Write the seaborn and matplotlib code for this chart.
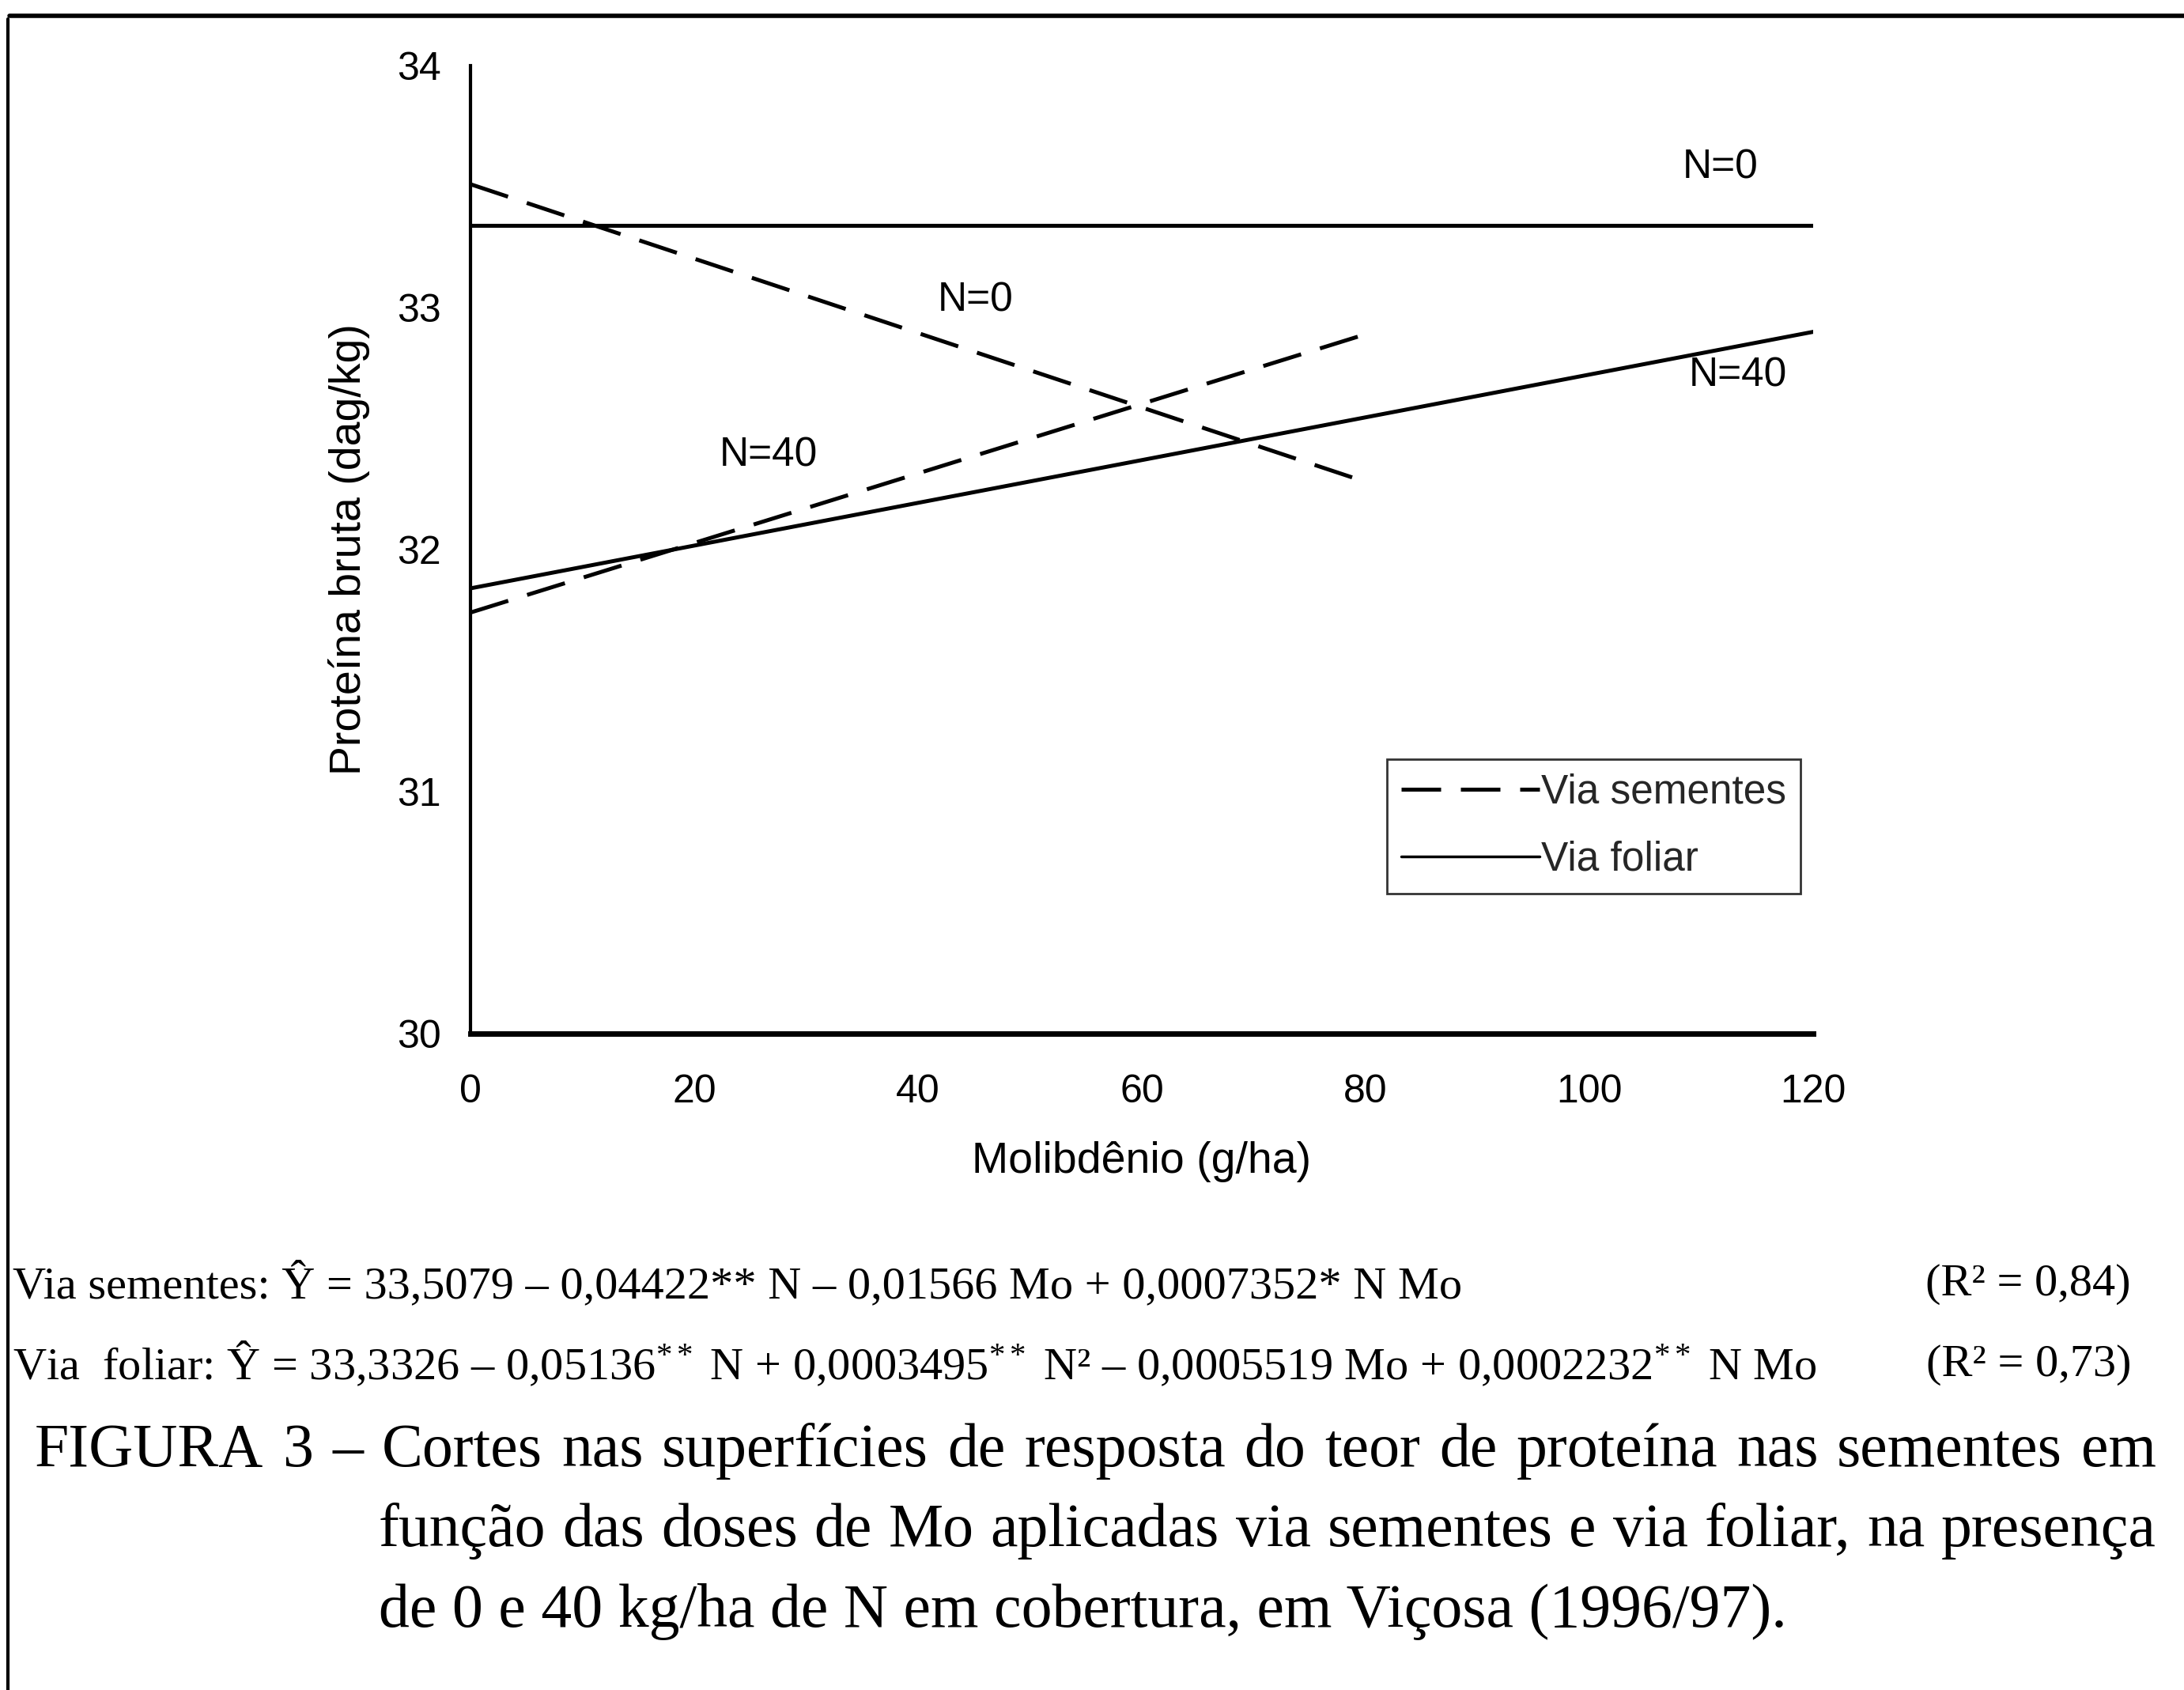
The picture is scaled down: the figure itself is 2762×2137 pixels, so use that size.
import numpy as np
import pandas as pd
import seaborn as sns
import matplotlib
matplotlib.use("Agg")
import matplotlib.pyplot as plt
from matplotlib.lines import Line2D

# ---- data ----
mo_sem = [0, 80]
sem_n0 = [33.51, 32.28]
sem_n40 = [31.74, 32.89]
mo_fol = [0, 120]
fol_n0 = [33.34, 33.34]
fol_n40 = [31.84, 32.90]

x_ticks = [0, 20, 40, 60, 80, 100, 120]
y_ticks = [30, 31, 32, 33, 34]

sns.set_theme(style="white")
plt.rcParams['font.family'] = ['Liberation Sans', 'DejaVu Sans']
plt.rcParams['mathtext.fontset'] = 'custom'
plt.rcParams['mathtext.rm'] = 'Liberation Serif'
plt.rcParams['mathtext.it'] = 'Liberation Serif:italic'
plt.rcParams['mathtext.bf'] = 'Liberation Serif:bold'

W, H = 2762, 2137
fig = plt.figure(figsize=(W / 100, H / 100), dpi=100)
fig.patch.set_facecolor('white')

ax = fig.add_axes([595 / W, 1 - 1307 / H, (2293 - 595) / W, (1307 - 83) / H])
ax.set_facecolor('white')

lw = 3.6
dash = (10, 5)

df_sem0 = pd.DataFrame({'Mo': mo_sem, 'P': sem_n0})
df_sem40 = pd.DataFrame({'Mo': mo_sem, 'P': sem_n40})
df_fol0 = pd.DataFrame({'Mo': mo_fol, 'P': fol_n0})
df_fol40 = pd.DataFrame({'Mo': mo_fol, 'P': fol_n40})

for d in (df_sem0, df_sem40):
    sns.lineplot(data=d, x='Mo', y='P', ax=ax, color='black', lw=lw,
                 linestyle=(0, dash), legend=False)
for d in (df_fol0, df_fol40):
    sns.lineplot(data=d, x='Mo', y='P', ax=ax, color='black', lw=lw,
                 legend=False)

ax.set_xlim(0, 120)
ax.set_ylim(30, 34)
ax.set_xticks(x_ticks)
ax.set_yticks(y_ticks)
ax.set_xticklabels([str(v) for v in x_ticks])
ax.set_yticklabels([str(v) for v in y_ticks])
for s in ['top', 'right']:
    ax.spines[s].set_visible(False)
for s in ['left', 'bottom']:
    ax.spines[s].set_color('black')
ax.spines['left'].set_linewidth(3.0)
ax.spines['bottom'].set_linewidth(5.0)
ax.tick_params(axis='both', direction='inout', length=26, width=2.8,
               colors='black', labelsize=36)
ax.tick_params(axis='x', pad=24)
ax.tick_params(axis='y', pad=14)
ax.set_xlabel('Molibdênio (g/ha)', fontsize=40, labelpad=28, color='black')
ax.set_ylabel('Proteína bruta (dag/kg)', fontsize=40, labelpad=24, color='black')

# curve labels
lbl = dict(fontsize=37, ha='center', va='center', color='black')
ax.text(111.7, 33.58, 'N=0', **lbl)
ax.text(45.1, 33.03, 'N=0', **lbl)
ax.text(113.3, 32.72, 'N=40', **lbl)
ax.text(26.6, 32.39, 'N=40', **lbl)

handles = [Line2D([], [], color='black', lw=lw, linestyle=(0, dash)),
           Line2D([], [], color='black', lw=2.5)]
leg = ax.legend(handles, ['Via sementes', 'Via foliar'], loc='upper left',
                bbox_to_anchor=(0.6826, 0.2835), borderaxespad=0, fontsize=37,
                frameon=True, fancybox=False, edgecolor='black',
                handlelength=3.4, handletextpad=0.05, borderpad=0.35,
                labelspacing=0.7)
leg.get_frame().set_linewidth(2.0)

# figure border (top and left)
fig.add_artist(Line2D([12 / W, 1.0], [1 - 20 / H, 1 - 20 / H], color='black',
                      lw=4.0, transform=fig.transFigure))
fig.add_artist(Line2D([10 / W, 10 / W], [1 - 24 / H, 0.0], color='black',
                      lw=3.0, transform=fig.transFigure))

# equations
ser = ['Liberation Serif', 'DejaVu Serif']
eq1 = ('Via sementes: Ŷ = 33,5079 – 0,04422** N – 0,01566 Mo + '
       '0,0007352* N Mo')
eq2 = (r'Via  foliar: Ŷ = 33,3326 – 0,05136$^{**}$ N + 0,0003495$^{**}$ N² – '
       r'0,0005519 Mo + 0,0002232$^{**}$ N Mo')
efs = 42
fig.text(16 / W, 1 - 1624 / H, eq1, family=ser, fontsize=efs, va='center',
         ha='left', color='black')
fig.text(16 / W, 1 - 1726 / H, eq2, family=ser, fontsize=efs, va='center',
         ha='left', color='black')
fig.text(2695 / W, 1 - 1624 / H, '(R² = 0,84)', family=ser, fontsize=efs,
         va='center', ha='right', color='black')
fig.text(2695 / W, 1 - 1726 / H, '(R² = 0,73)', family=ser, fontsize=efs,
         va='center', ha='right', color='black')

# caption (first two lines justified between x0 and x1)
cap = dict(family=ser, fontsize=56, va='center', ha='left', color='black')
renderer = fig.canvas.get_renderer()


def justified(text, x0, x1, y):
    words = text.split()
    arts = [fig.text(0, y, w, **cap) for w in words]
    widths = [a.get_window_extent(renderer).width for a in arts]
    gap = (x1 - x0 - sum(widths)) / (len(words) - 1)
    x = x0
    for a, wd in zip(arts, widths):
        a.set_x(x / W)
        x += wd + gap


justified('FIGURA 3 – Cortes nas superfícies de resposta do teor de proteína '
          'nas sementes em', 44, 2727, 1 - 1835 / H)
justified('função das doses de Mo aplicadas via sementes e via foliar, '
          'na presença', 479, 2727, 1 - 1936 / H)
fig.text(479 / W, 1 - 2038 / H,
         'de 0 e 40 kg/ha de N em cobertura, em Viçosa (1996/97).', **cap)

fig.savefig('out.png', dpi=100, facecolor='white')
